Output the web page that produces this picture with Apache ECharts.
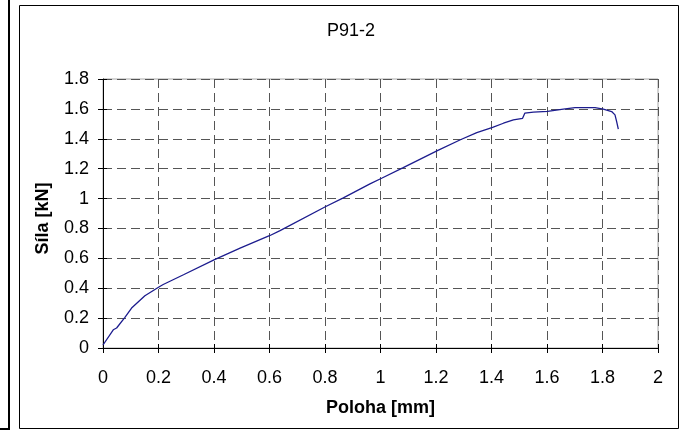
<!DOCTYPE html>
<html>
<head>
<meta charset="utf-8">
<script src="https://cdn.jsdelivr.net/npm/echarts@6/dist/echarts.min.js"></script>
<style>html,body{margin:0;padding:0;background:#fff}#c{width:687px;height:431px}</style>
</head>
<body>
<div id="c"></div>
<script>
const titleText = 'P91-2';
const xName = 'Poloha [mm]';
const yName = 'Síla [kN]';
const posMm = [0, 0.001, 0.037, 0.049, 0.079, 0.103, 0.151, 0.203, 0.217, 0.29, 0.40, 0.494, 0.602, 0.638, 0.803, 0.866, 0.962, 1.004, 1.082, 1.205, 1.286, 1.347, 1.404, 1.443, 1.479, 1.512, 1.52, 1.551, 1.602, 1.659, 1.701, 1.773, 1.803, 1.833, 1.845, 1.851, 1.857];
const forceKn = [0.02, 0.033, 0.122, 0.134, 0.205, 0.267, 0.35, 0.41, 0.425, 0.49, 0.59, 0.668, 0.753, 0.785, 0.947, 1.005, 1.098, 1.136, 1.207, 1.321, 1.392, 1.441, 1.477, 1.504, 1.526, 1.537, 1.571, 1.578, 1.584, 1.598, 1.608, 1.608, 1.598, 1.582, 1.56, 1.515, 1.464];
const xMin = 0, xMax = 2, xStep = 0.2;
const yMin = 0, yMax = 1.8, yStep = 0.2;

const font = '"Liberation Sans", Arial, sans-serif';
const chart = echarts.init(document.getElementById('c'));
const gridDash = {show: true, lineStyle: {color: '#555', type: [9, 5], width: 1}};
chart.setOption({
  animation: false,
  backgroundColor: '#fff',
  title: {text: titleText, left: 327, top: 22, padding: 0,
    textStyle: {fontFamily: font, fontSize: 18, fontWeight: 'normal', color: '#000'}},
  grid: {left: 103, right: 29, top: 79, bottom: 83, show: true, borderColor: '#a8a8a8', borderWidth: 1, backgroundColor: '#fff'},
  xAxis: [{
    type: 'value', min: xMin, max: xMax, interval: xStep,
    name: xName, nameLocation: 'middle', nameGap: 51,
    nameTextStyle: {fontFamily: font, fontSize: 18, fontWeight: 'bold', color: '#000'},
    axisLine: {show: true, onZero: false, lineStyle: {color: '#000', width: 1}},
    axisTick: {show: true, inside: false, length: 5, lineStyle: {color: '#000'}},
    axisLabel: {fontFamily: font, fontSize: 18, color: '#000', margin: 21},
    splitLine: gridDash
  }, {
    type: 'value', min: xMin, max: xMax, interval: xStep, position: 'bottom',
    axisLine: {show: false}, axisLabel: {show: false}, splitLine: {show: false},
    axisTick: {show: true, inside: true, length: 4, lineStyle: {color: '#000'}}
  }],
  yAxis: [{
    type: 'value', min: yMin, max: yMax, interval: yStep,
    name: yName, nameLocation: 'middle', nameGap: 51, nameRotate: 90,
    nameTextStyle: {fontFamily: font, fontSize: 18, fontWeight: 'bold', color: '#000', padding: [0, 10, 0, 0]},
    axisLine: {show: true, onZero: false, lineStyle: {color: '#000', width: 1}},
    axisTick: {show: true, inside: false, length: 5, lineStyle: {color: '#000'}},
    axisLabel: {fontFamily: font, fontSize: 18, color: '#000', margin: 14},
    splitLine: gridDash
  }, {
    type: 'value', min: yMin, max: yMax, interval: yStep, position: 'left',
    axisLine: {show: false}, axisLabel: {show: false}, splitLine: {show: false},
    axisTick: {show: true, inside: true, length: 4, lineStyle: {color: '#000'}}
  }],
  series: [{
    type: 'line', xAxisIndex: 0, yAxisIndex: 0,
    data: posMm.map((x, i) => [x, forceKn[i]]),
    showSymbol: false, smooth: false,
    lineStyle: {color: '#1c1c8e', width: 1.3}
  }],
  graphic: [
    {type: 'rect', shape: {x: 19.5, y: 5.5, width: 659, height: 423}, style: {fill: 'none', stroke: '#000', lineWidth: 1}, z: 100},
    {type: 'rect', shape: {x: -20, y: -20, width: 29, height: 449}, style: {fill: 'none', stroke: '#000', lineWidth: 2}, z: 100}
  ]
});
</script>
</body>
</html>
